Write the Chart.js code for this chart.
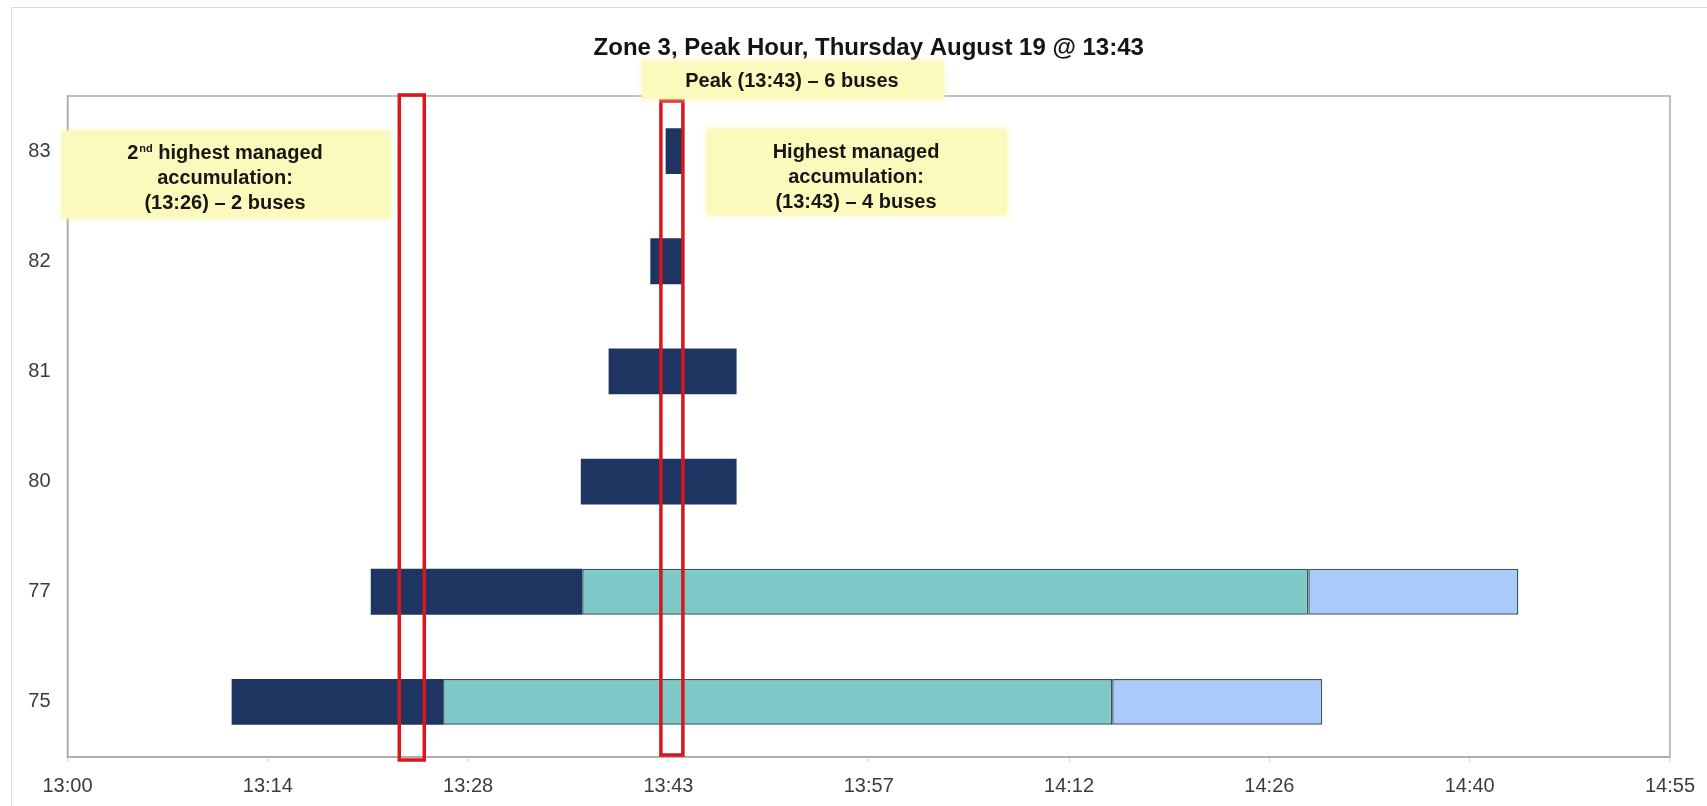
<!DOCTYPE html>
<html>
<head>
<meta charset="utf-8">
<title>Zone 3 Peak Hour</title>
<script src="https://cdn.jsdelivr.net/npm/chart.js@4.4.1/dist/chart.umd.min.js"></script>
<style>
    html, body { margin: 0; padding: 0; background: #fff; }
    #wrap { position: relative; width: 1707px; height: 806px; overflow: hidden; }
    #frame { position: absolute; left: 11px; top: 7px; width: 1800px; height: 900px; border: 1px solid #dcdcdc; }
    #myChart { position: absolute; left: 0; top: 0; }
</style>
</head>
<body>
<div id="wrap">
    <div id="frame"></div>
    <canvas id="myChart" width="1707" height="806"></canvas>
</div>
<script>
// bus routes, top to bottom
const routes = ['83', '82', '81', '80', '77', '75'];

// minutes after 13:00
const stage1Start = [43.0, 41.9, 38.9, 36.9, 21.8, 11.8];
const stage1End = [44.2, 44.2, 48.1, 48.1, 37.0, 27.0];
const stage2End = [null, null, null, null, 89.2, 75.1];
const stage3End = [null, null, null, null, 104.3, 90.2];

// axis labels, one every 0.01 day (14.4 min)
const timeTicks = ['13:00', '13:14', '13:28', '13:43', '13:57', '14:12', '14:26', '14:40', '14:55'];
const tickStep = 14.4;

// highlighted moments (minutes after 13:00)
const markTimes = [24.75, 43.45];

const FONT = '"Liberation Sans", Arial, Helvetica, sans-serif';
Chart.defaults.font.family = FONT;

function range(a, b) {
    if (a == null || b == null) return null;
    return [a, b];
}

// red outline boxes + yellow callouts
const notesPlugin = {
    id: 'notes',
    beforeDatasetsDraw(chart) {
        const a = chart.chartArea;
        const ctx = chart.ctx;
        ctx.save();
        ctx.strokeStyle = '#ababab';
        ctx.lineWidth = 1.5;
        ctx.strokeRect(a.left, a.top, a.right - a.left, a.bottom - a.top);
        ctx.restore();
    },
    afterDatasetsDraw(chart) {
        const a = chart.chartArea;
        const x = chart.scales.x;
        const ctx = chart.ctx;
        const boxes = [
            { w: 25, top: a.top - 1, bottom: a.bottom + 3 },
            { w: 22, top: a.top + 5, bottom: a.bottom - 2 }
        ];
        ctx.save();
        ctx.strokeStyle = '#d7161e';
        ctx.lineWidth = 3.5;
        markTimes.forEach((t, i) => {
            const cx = x.getPixelForValue(t);
            const b = boxes[i];
            ctx.strokeRect(cx - b.w / 2, b.top, b.w, b.bottom - b.top);
        });
        ctx.restore();
    },
    afterDraw(chart) {
        const ctx = chart.ctx;
        const notes = [
            { x: 62, y: 131, w: 328, h: 87, cx: 225, dy: 4, lines: [['2', 'nd', ' highest managed'], 'accumulation:', '(13:26) \u2013 2 buses'] },
            { x: 707, y: 129, w: 300, h: 86, cx: 856, dy: 5, lines: ['Highest managed', 'accumulation:', '(13:43) \u2013 4 buses'] },
            { x: 642, y: 61, w: 302, h: 38, cx: 792, dy: 1, lines: ['Peak (13:43) \u2013 6 buses'] }
        ];
        ctx.save();
        notes.forEach((n) => {
            ctx.save();
            ctx.shadowColor = 'rgba(248, 246, 170, 0.9)';
            ctx.shadowBlur = 6;
            ctx.fillStyle = '#fbf9bb';
            ctx.fillRect(n.x, n.y, n.w, n.h);
            ctx.restore();

            ctx.fillStyle = '#161616';
            ctx.textBaseline = 'middle';
            const lh = 25;
            const y0 = n.y + n.h / 2 - (n.lines.length - 1) * lh / 2 + n.dy;
            n.lines.forEach((line, i) => {
                const y = y0 + i * lh;
                if (Array.isArray(line)) {
                    // number with superscript suffix
                    const big = 'bold 20px ' + FONT;
                    const small = 'bold 11px ' + FONT;
                    ctx.font = big;
                    const w1 = ctx.measureText(line[0]).width;
                    const w3 = ctx.measureText(line[2]).width;
                    ctx.font = small;
                    const w2 = ctx.measureText(line[1]).width + 1;
                    let left = n.cx - (w1 + w2 + w3) / 2;
                    ctx.textAlign = 'left';
                    ctx.font = big;
                    ctx.fillText(line[0], left, y);
                    ctx.font = small;
                    ctx.fillText(line[1], left + w1 + 1, y - 5);
                    ctx.font = big;
                    ctx.fillText(line[2], left + w1 + w2, y);
                } else {
                    ctx.textAlign = 'center';
                    ctx.font = 'bold 20px ' + FONT;
                    ctx.fillText(line, n.cx, y);
                }
            });
        });
        ctx.restore();
    }
};

const barCommon = {
    grouped: false,
    barPercentage: 0.416,
    categoryPercentage: 1
};

const data = {
    labels: routes,
    datasets: [
        Object.assign({
            label: 'Stage 1',
            data: routes.map((r, i) => range(stage1Start[i], stage1End[i])),
            backgroundColor: '#1f3561',
            borderWidth: 0
        }, barCommon),
        Object.assign({
            label: 'Stage 2',
            data: routes.map((r, i) => range(stage1End[i], stage2End[i])),
            backgroundColor: '#7cc9c8',
            borderColor: '#36535d',
            borderWidth: 1.5,
            borderSkipped: false
        }, barCommon),
        Object.assign({
            label: 'Stage 3',
            data: routes.map((r, i) => range(stage2End[i], stage3End[i])),
            backgroundColor: '#abc9fa',
            borderColor: '#3e5566',
            borderWidth: 1.5,
            borderSkipped: false
        }, barCommon)
    ]
};

const config = {
    type: 'bar',
    data: data,
    options: {
        indexAxis: 'y',
        responsive: false,
        animation: false,
        layout: {
            padding: { left: 0, right: 33, top: 0, bottom: 0 }
        },
        plugins: {
            legend: { display: false },
            tooltip: { enabled: false },
            title: {
                display: true,
                fullSize: false,
                text: 'Zone 3, Peak Hour, Thursday August 19 @ 13:43',
                color: '#141414',
                font: { size: 24, weight: 'bold', lineHeight: 1.2 },
                padding: { top: 34, bottom: 33.2 }
            }
        },
        scales: {
            x: {
                type: 'linear',
                min: 0,
                max: tickStep * (timeTicks.length - 1),
                afterBuildTicks: (scale) => {
                    scale.ticks = timeTicks.map((t, i) => ({ value: i * tickStep }));
                },
                afterFit: (scale) => {
                    scale.height = 49;
                },
                grid: {
                    drawOnChartArea: false,
                    drawTicks: true,
                    tickLength: 5,
                    color: '#d4d4d4'
                },
                border: { display: true, color: '#ababab', width: 1.5 },
                ticks: {
                    autoSkip: false,
                    maxRotation: 0,
                    padding: 12,
                    color: '#3c3c3c',
                    font: { size: 20 },
                    callback: (v, i) => timeTicks[i]
                }
            },
            y: {
                afterFit: (scale) => {
                    scale.width = 67.5;
                },
                grid: { display: false, drawTicks: false },
                border: { display: true, color: '#ababab', width: 1.5 },
                ticks: {
                    padding: 17,
                    color: '#3c3c3c',
                    font: { size: 20 }
                }
            }
        }
    },
    plugins: [notesPlugin]
};

new Chart(document.getElementById('myChart'), config);
</script>
</body>
</html>
